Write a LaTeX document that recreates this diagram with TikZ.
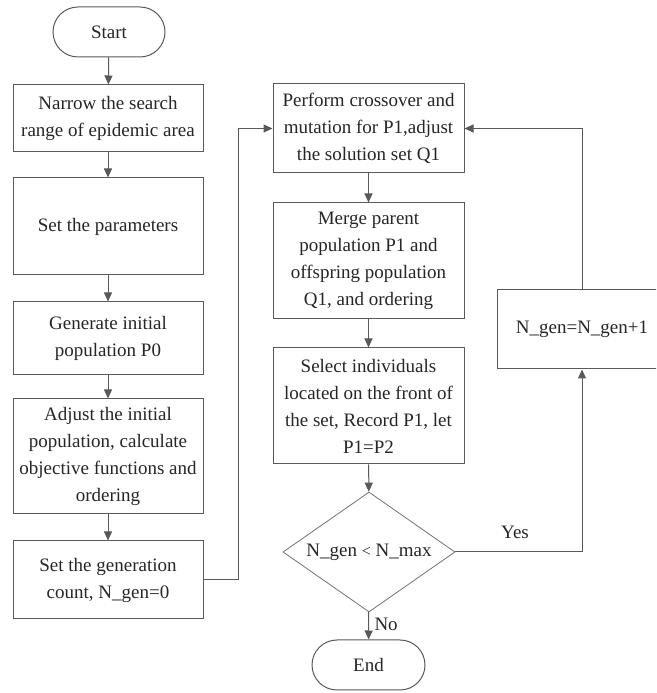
\documentclass[tikz,border=0pt]{standalone}
\usepackage{fontspec}
\setmainfont{Liberation Serif}
\usetikzlibrary{shapes.geometric,shapes.misc,arrows.meta}
\begin{document}
\begin{tikzpicture}[x=1pt,y=1pt,
  every node/.style={font=\fontsize{19}{27}\selectfont, text=black!85},
  box/.style={draw=black!65, line width=1pt, align=center, inner sep=0pt, minimum width=#1},
  box/.default=190pt,
  term/.style={draw=black!65, line width=1pt, rounded rectangle, inner sep=0pt, minimum width=112pt, minimum height=50pt},
  dec/.style={draw=black!55, line width=0.8pt, diamond, aspect=1.43, inner sep=0pt, minimum width=172pt, minimum height=120pt},
  arr/.style={draw=black!65, line width=1pt, -{Triangle[length=9pt,width=8pt]}},
  ln/.style={draw=black!65, line width=1pt}]
\clip (0,0) rectangle (656,693);
\fill[white] (0,0) rectangle (656,693);

\node[term] (start) at (109,661) {Start};
\node[box, minimum height=67pt] (b1) at (108,574.5) {Narrow the search\\range of epidemic area};
\node[box, minimum height=97pt] (b2) at (108,466.5) {Set the parameters};
\node[box, minimum height=73pt] (b3) at (108,354.5) {Generate initial\\population P0};
\node[box, minimum height=115pt] (b4) at (108,236.5) {Adjust the initial\\population, calculate\\objective functions and\\ordering};
\node[box, minimum height=78pt] (b5) at (108,113) {Set the generation\\count, N\_gen=0};

\node[box=191pt, minimum height=89pt] (perf) at (368.5,564.5) {Perform crossover and\\mutation for P1,adjust\\the solution set Q1};
\node[box=191pt, minimum height=116pt] (merge) at (368.5,432) {Merge parent\\population P1 and\\offspring population\\Q1, and ordering};
\node[box=191pt, minimum height=116pt] (sel) at (368.5,287) {Select individuals\\located on the front of\\the set, Record P1, let\\P1=P2};
\node[dec] (dec) at (369,141) {N\_gen {\fontsize{16}{16}\selectfont<} N\_max};
\node[term, minimum width=113pt] (end) at (368.5,28) {End};
\node[box=170pt, minimum height=79pt] (inc) at (582,363.5) {N\_gen=N\_gen+1};

\draw[arr] (start) -- (b1);
\draw[arr] (b1) -- (b2);
\draw[arr] (b2) -- (b3);
\draw[arr] (b3) -- (b4);
\draw[arr] (b4) -- (b5);
\coordinate (j1) at (238,113);
\draw[arr] (b5.east) -- (j1) |- (perf.west);
\draw[arr] (perf) -- (merge);
\draw[arr] (merge) -- (sel);
\draw[arr] (sel) -- (dec);
\draw[arr] (dec) -- node[right, xshift=2pt, pos=0.45]{No} (end);
\draw[arr] (dec.east) -| (inc.south);
\node at (515,161) {Yes};
\draw[arr] (inc.north) |- (perf.east);
\end{tikzpicture}
\end{document}
